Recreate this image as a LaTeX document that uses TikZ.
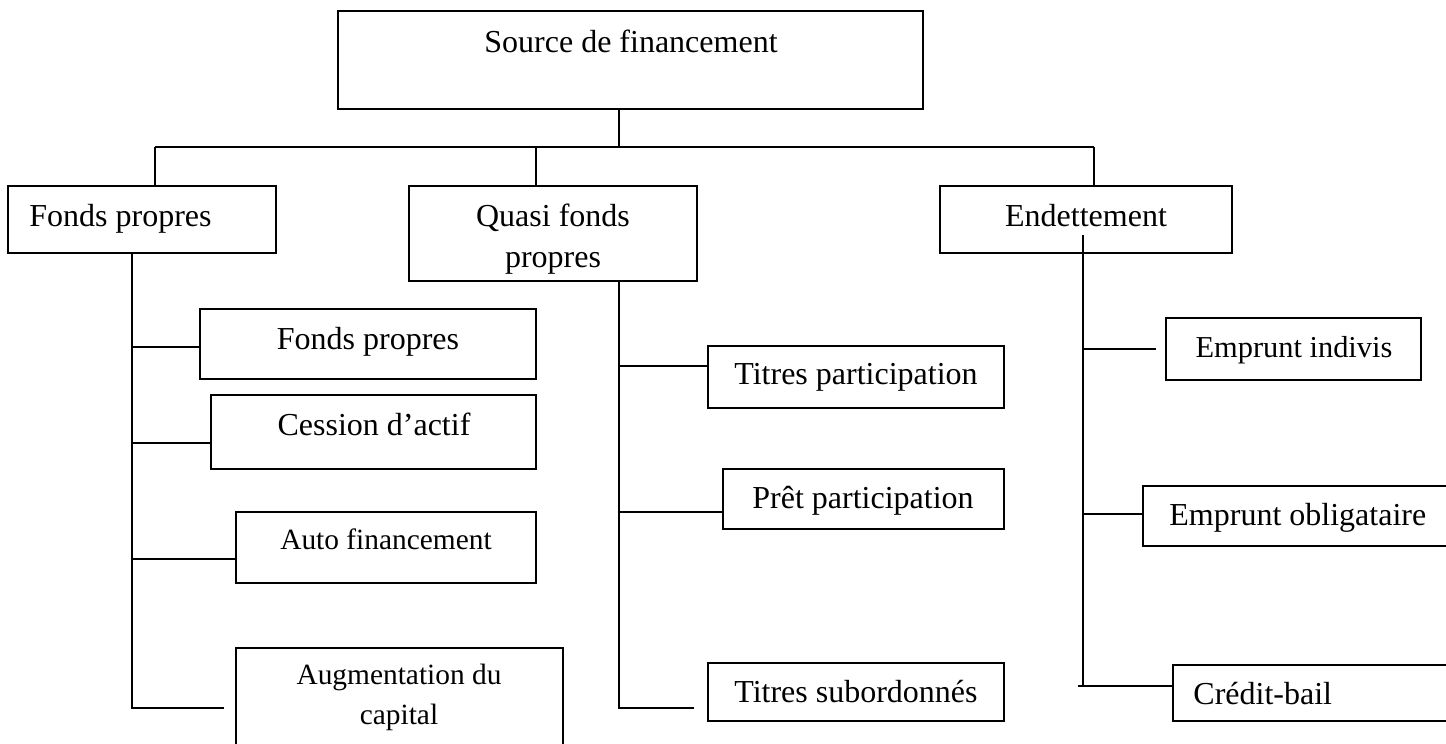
\documentclass[tikz,border=0pt]{standalone}
\usepackage{fontspec}
\setmainfont{Liberation Serif}
\usetikzlibrary{fit}
\tikzstyle{box}=[draw=black,line width=0.8pt,inner sep=0pt]
\tikzstyle{txt}=[inner sep=0pt,anchor=base,align=center,
                 font=\fontsize{16}{20.5}\selectfont]
\tikzstyle{smalltxt}=[txt,font=\fontsize{14.7}{20}\selectfont]
\tikzstyle{conn}=[line width=0.8pt]

\begin{document}
\begin{tikzpicture}[x=0.5pt,y=-0.5pt]
  \useasboundingbox (0,0) rectangle (1446,744);
  \clip (0,0) rectangle (1446,744);
  % top level
  \node[box,fit={(338,11) (923,109)}] (src) {};
  \node[txt] (srclbl) at (631,52) {Source de financement};
  % second level
  \node[box,fit={(8,186) (276,253)}] (fp) {};
  \node[txt,anchor=base west] (fplbl) at (29,226) {Fonds propres};
  \node[box,fit={(409,186) (697,281)}] (qfp) {};
  \node[txt] (qfplbl) at (553,267) {Quasi fonds\\propres};
  \node[box,fit={(940,186) (1232,253)}] (dett) {};
  \node[txt] (dettlbl) at (1086,226) {Endettement};
  % fonds propres
  \node[box,fit={(200,309) (536,379)}] (fp2) {};
  \node[txt] (fp2lbl) at (368,349) {Fonds propres};
  \node[box,fit={(211,395) (536,469)}] (ces) {};
  \node[txt] (ceslbl) at (374,435) {Cession d’actif};
  \node[box,fit={(236,512) (536,583)}] (auto) {};
  \node[smalltxt] (autolbl) at (386,549) {Auto financement};
  \node[box,fit={(236,648) (563,760)}] (aug) {};
  \node[smalltxt] (auglbl) at (399,724) {Augmentation du\\capital};
  % quasi fonds propres
  \node[box,fit={(708,346) (1004,408)}] (tp) {};
  \node[txt] (tplbl) at (856,384) {Titres participation};
  \node[box,fit={(723,469) (1004,529)}] (pp) {};
  \node[txt] (pplbl) at (863,508) {Prêt participation};
  \node[box,fit={(708,663) (1004,721)}] (ts) {};
  \node[txt] (tslbl) at (856,702) {Titres subordonnés};
  % endettement
  \node[box,fit={(1166,318) (1421,380)}] (ei) {};
  \node[txt,font=\fontsize{15.2}{20}\selectfont] (eilbl) at (1294,357) {Emprunt indivis};
  \node[box,fit={(1143,486) (1470,546)}] (eo) {};
  \node[txt,anchor=base west] (eolbl) at (1169,525) {Emprunt obligataire};
  \node[box,fit={(1173,665) (1470,721)}] (cb) {};
  \node[txt,anchor=base west] (cblbl) at (1193,704) {Crédit-bail};

  % bus
  \coordinate (bs) at (619,147);
  \coordinate (bl) at (155,147);
  \coordinate (bm) at (536,147);
  \coordinate (br) at (1094,147);
  \draw[conn] (src.south -| bs) -- (bs);
  \draw[conn] (bl) -- (br);
  \draw[conn] (bl) -- (bl |- fp.north);
  \draw[conn] (bm) -- (bm |- qfp.north);
  \draw[conn] (br) -- (br |- dett.north);

  % left trunk
  \coordinate (ta) at (132,708);
  \coordinate (tae) at (224,708);
  \coordinate (a1) at (132,347);
  \coordinate (a2) at (132,443);
  \coordinate (a3) at (132,559);
  \draw[conn] (fp.south -| ta) -- (ta) -- (tae);
  \draw[conn] (a1) -- (a1 -| fp2.west);
  \draw[conn] (a2) -- (a2 -| ces.west);
  \draw[conn] (a3) -- (a3 -| auto.west);

  % middle trunk
  \coordinate (tb) at (619,708);
  \coordinate (tbe) at (694,708);
  \coordinate (b1) at (619,366);
  \coordinate (b2) at (619,512);
  \draw[conn] (qfp.south -| tb) -- (tb) -- (tbe);
  \draw[conn] (b1) -- (b1 -| tp.west);
  \draw[conn] (b2) -- (b2 -| pp.west);

  % right trunk
  \coordinate (c0) at (1083,235);
  \coordinate (c3) at (1083,686);
  \coordinate (c3s) at (1078,686);
  \coordinate (c1) at (1083,349);
  \coordinate (c1e) at (1156,349);
  \coordinate (c2) at (1083,514);
  \draw[conn] (c0) -- (c3);
  \draw[conn] (c1) -- (c1e);
  \draw[conn] (c2) -- (c2 -| eo.west);
  \draw[conn] (c3s) -- (c3 -| cb.west);
\end{tikzpicture}
\end{document}
